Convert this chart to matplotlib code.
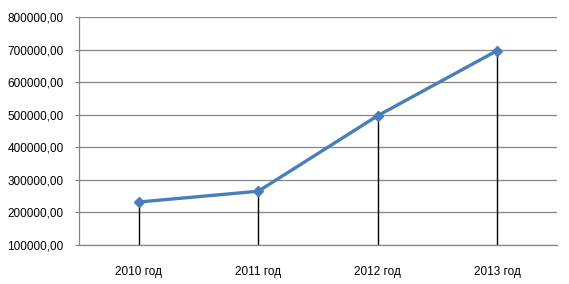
import numpy as np
import matplotlib.pyplot as plt

years = ['2010 год', '2011 год', '2012 год', '2013 год']
values = [232000, 265000, 497000, 697000]
y_ticks = [100000, 200000, 300000, 400000, 500000, 600000, 700000, 800000]

plt.rcParams['font.family'] = ['Liberation Sans', 'DejaVu Sans']

fig = plt.figure(figsize=(5.69, 2.84), dpi=100)
ax = fig.add_axes([79 / 569, 1 - 245 / 284, 478 / 569, 228 / 284])

x = np.arange(len(years))
ax.vlines(x, y_ticks[0], values, color='black', linewidth=1.0, zorder=2)
ax.plot(x, values, color='#4a7ebb', linewidth=2.4, marker='D',
        markersize=5.5, zorder=3, solid_capstyle='round')

ax.set_xlim(-0.5, len(years) - 0.5)
ax.set_ylim(y_ticks[0], y_ticks[-1])
ax.set_yticks(y_ticks)
ax.set_yticklabels([f'{v},00' for v in y_ticks])
ax.set_xticks(x)
ax.set_xticklabels(years)

ax.grid(axis='y', color='#868686', linewidth=0.9)
ax.set_axisbelow(True)
for side in ['top', 'right']:
    ax.spines[side].set_visible(False)
for side in ['left', 'bottom']:
    ax.spines[side].set_color('#868686')
    ax.spines[side].set_linewidth(0.9)

ax.tick_params(axis='y', length=3, color='#868686', pad=8,
               labelsize=8.5, labelcolor='black')
ax.tick_params(axis='x', length=0, pad=15, labelsize=8.5, labelcolor='black')

fig.savefig('out.png', dpi=100)
